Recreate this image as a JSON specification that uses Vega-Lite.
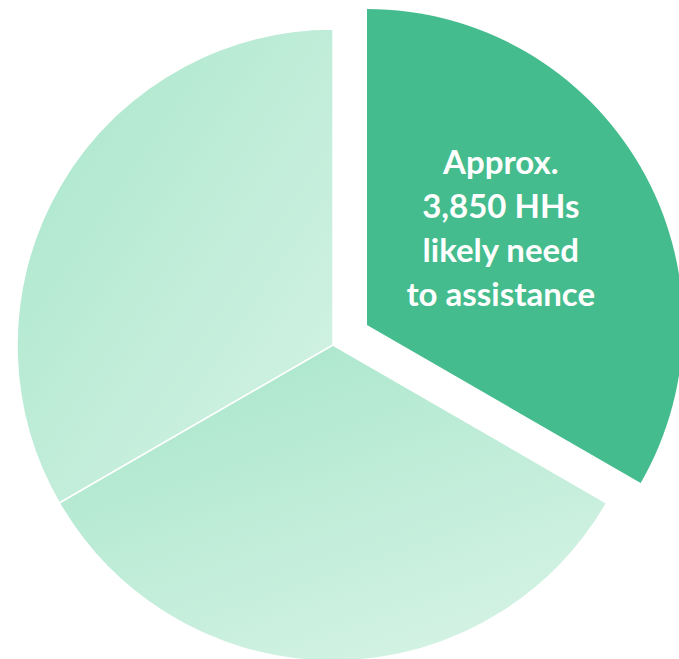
{
  "$schema": "https://vega.github.io/schema/vega-lite/v6.json",
  "autosize": "none",
  "width": 632,
  "height": 632,
  "padding": {"left": 17, "top": 29, "right": 47, "bottom": 0},
  "background": "white",
  "config": {"view": {"stroke": null}},
  "data": {
    "values": [
      {"group": "Likely need assistance", "households": 3850, "order": 1},
      {"group": "Group 2", "households": 3850, "order": 2},
      {"group": "Group 3", "households": 3850, "order": 3}
    ]
  },
  "encoding": {
    "theta": {"field": "households", "type": "quantitative", "stack": true},
    "order": {"field": "order", "type": "quantitative"}
  },
  "layer": [
    {
      "mark": {
        "type": "arc",
        "stroke": "white",
        "strokeWidth": 1.5,
        "color": {
          "gradient": "linear", "x1": 0, "y1": 0, "x2": 1, "y2": 1,
          "stops": [{"offset": 0, "color": "#a9e6cb"}, {"offset": 1, "color": "#d6f3e6"}]
        }
      },
      "encoding": {
        "opacity": {"condition": {"test": "datum.order == 3", "value": 1}, "value": 0}
      }
    },
    {
      "mark": {
        "type": "arc",
        "stroke": "white",
        "strokeWidth": 1.5,
        "color": {
          "gradient": "linear", "x1": 0.2, "y1": 0, "x2": 0.8, "y2": 1,
          "stops": [{"offset": 0, "color": "#a9e6cb"}, {"offset": 1, "color": "#d6f3e6"}]
        }
      },
      "encoding": {
        "opacity": {"condition": {"test": "datum.order == 2", "value": 1}, "value": 0}
      }
    },
    {
      "mark": {"type": "arc", "color": "#45bc8d", "xOffset": 34, "yOffset": -20},
      "encoding": {
        "opacity": {"condition": {"test": "datum.order == 1", "value": 1}, "value": 0}
      }
    },
    {
      "transform": [{"filter": "datum.order == 1"}],
      "mark": {
        "type": "text",
        "radius": 166,
        "xOffset": 34,
        "yOffset": -20,
        "dx": -10,
        "dy": -78,
        "align": "center",
        "baseline": "middle",
        "font": "Lato",
        "fontWeight": "bold",
        "fontSize": 33,
        "lineHeight": 44,
        "color": "white",
        "lineBreak": "\n",
        "text": "Approx.\n3,850 HHs\nlikely need\nto assistance"
      },
      "encoding": {
        "theta": {"value": 1.0472},
        "order": null
      }
    }
  ]
}
